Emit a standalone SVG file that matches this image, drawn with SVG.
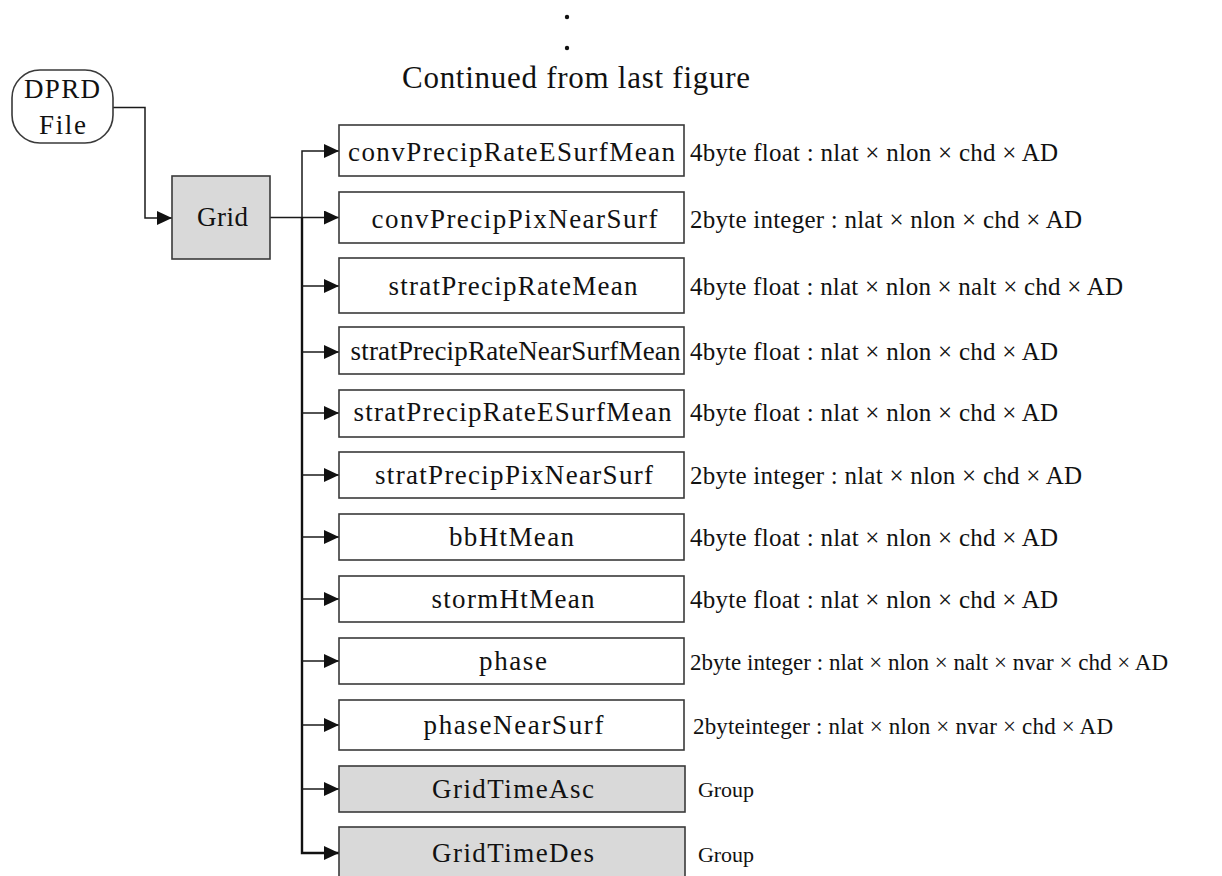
<svg xmlns="http://www.w3.org/2000/svg" width="1222" height="876" viewBox="0 0 1222 876">
<style>
  text { font-family: "Liberation Serif", "Times New Roman", serif; fill: #111; }
  .box { fill: #ffffff; stroke: #3a3a3a; stroke-width: 1.6; }
  .grp { fill: #d9d9d9; stroke: #3a3a3a; stroke-width: 1.6; }
  .name { font-size: 27px; text-anchor: middle; }
  .desc { font-size: 25px; }
  .desc2 { font-size: 23px; }
  .gl { font-size: 22px; }
  .ln { fill: none; stroke: #1a1a1a; stroke-width: 1.5; stroke-linejoin: miter; }
  .lnb { fill: none; stroke: #111; stroke-width: 2.4; stroke-linejoin: miter; }
</style>
<defs>
  <marker id="arr" markerUnits="userSpaceOnUse" markerWidth="16" markerHeight="14" refX="15" refY="7" orient="auto">
    <path d="M0,0 L15,7 L0,14 z" fill="#111"/>
  </marker>
</defs>
<rect x="0" y="0" width="1222" height="876" fill="#ffffff"/>

<g id="title">
  <circle cx="567" cy="17" r="2.2" fill="#111"/>
  <circle cx="567" cy="48" r="2.2" fill="#111"/>
  <text x="402" y="88" font-size="31" textLength="348">Continued from last figure</text>
</g>

<g id="connectors">
  <path class="ln" d="M113,107.5 H145 V218 H172" marker-end="url(#arr)"/>
  <path class="ln" d="M270,217.5 H339" marker-end="url(#arr)"/>
  <path class="ln" d="M302,218 V151 H339" marker-end="url(#arr)"/>
  <path class="lnb" d="M302,217 V853 H339" marker-end="url(#arr)"/>
  <path class="ln" d="M302,286 H339" marker-end="url(#arr)"/>
  <path class="ln" d="M302,352 H339" marker-end="url(#arr)"/>
  <path class="ln" d="M302,413 H339" marker-end="url(#arr)"/>
  <path class="ln" d="M302,475 H339" marker-end="url(#arr)"/>
  <path class="ln" d="M302,537 H339" marker-end="url(#arr)"/>
  <path class="ln" d="M302,599 H339" marker-end="url(#arr)"/>
  <path class="ln" d="M302,661 H339" marker-end="url(#arr)"/>
  <path class="ln" d="M302,725 H339" marker-end="url(#arr)"/>
  <path class="ln" d="M302,789 H339" marker-end="url(#arr)"/>
</g>

<g id="dprd-file">
  <rect x="12" y="70" width="101" height="73" rx="28" ry="28" fill="#fff" stroke="#3a3a3a" stroke-width="1.6"/>
  <text x="24" y="98" font-size="27" textLength="76">DPRD</text>
  <text x="39" y="134" font-size="27" textLength="47">File</text>
</g>

<g id="grid">
  <rect class="grp" x="172" y="176" width="98" height="83"/>
  <text x="197" y="226" font-size="27" textLength="51">Grid</text>
</g>

<g id="convPrecipRateESurfMean">
  <rect class="box" x="339" y="125" width="345" height="51"/>
  <text class="name" x="511.5" y="161" textLength="327">convPrecipRateESurfMean</text>
  <text class="desc" x="690" y="161" textLength="368">4byte float : nlat × nlon × chd  × AD</text>
</g>

<g id="convPrecipPixNearSurf">
  <rect class="box" x="339" y="192" width="345" height="51"/>
  <text class="name" x="514.5" y="228" textLength="286">convPrecipPixNearSurf</text>
  <text class="desc" x="690" y="228" textLength="392">2byte integer : nlat × nlon × chd  × AD</text>
</g>

<g id="stratPrecipRateMean">
  <rect class="box" x="339" y="258" width="345" height="55"/>
  <text class="name" x="513" y="295" textLength="249">stratPrecipRateMean</text>
  <text class="desc" x="690" y="295" textLength="433">4byte float : nlat × nlon × nalt × chd  × AD</text>
</g>

<g id="stratPrecipRateNearSurfMean">
  <rect class="box" x="339" y="327" width="345" height="47"/>
  <text class="name" x="515.5" y="360" textLength="330">stratPrecipRateNearSurfMean</text>
  <text class="desc" x="690" y="360" textLength="368">4byte float : nlat × nlon × chd  × AD</text>
</g>

<g id="stratPrecipRateESurfMean">
  <rect class="box" x="339" y="390" width="345" height="47"/>
  <text class="name" x="512.5" y="421" textLength="318">stratPrecipRateESurfMean</text>
  <text class="desc" x="690" y="421" textLength="368">4byte float : nlat × nlon × chd  × AD</text>
</g>

<g id="stratPrecipPixNearSurf">
  <rect class="box" x="339" y="452" width="345" height="46"/>
  <text class="name" x="514" y="484" textLength="278">stratPrecipPixNearSurf</text>
  <text class="desc" x="690" y="484" textLength="392">2byte integer : nlat × nlon × chd  × AD</text>
</g>

<g id="bbHtMean">
  <rect class="box" x="339" y="514" width="345" height="46"/>
  <text class="name" x="511.5" y="546" textLength="125">bbHtMean</text>
  <text class="desc" x="690" y="546" textLength="368">4byte float : nlat × nlon × chd  × AD</text>
</g>

<g id="stormHtMean">
  <rect class="box" x="339" y="576" width="345" height="46"/>
  <text class="name" x="513" y="608" textLength="163">stormHtMean</text>
  <text class="desc" x="690" y="608" textLength="368">4byte float : nlat × nlon × chd  × AD</text>
</g>

<g id="phase">
  <rect class="box" x="339" y="638" width="345" height="46"/>
  <text class="name" x="513" y="670" textLength="68">phase</text>
  <text class="desc2" x="690" y="670" textLength="478">2byte integer : nlat × nlon × nalt × nvar × chd  × AD</text>
</g>

<g id="phaseNearSurf">
  <rect class="box" x="339" y="700" width="345" height="50"/>
  <text class="name" x="513.5" y="734" textLength="180">phaseNearSurf</text>
  <text class="desc2" x="693" y="734" textLength="420">2byteinteger : nlat × nlon × nvar × chd  × AD</text>
</g>

<g id="GridTimeAsc">
  <rect class="grp" x="339" y="766" width="346" height="46"/>
  <text class="name" x="513" y="798" textLength="162">GridTimeAsc</text>
  <text class="gl" x="698" y="797" textLength="56">Group</text>
</g>

<g id="GridTimeDes">
  <rect class="grp" x="339" y="827" width="346" height="60"/>
  <text class="name" x="513" y="862" textLength="162">GridTimeDes</text>
  <text class="gl" x="698" y="862" textLength="56">Group</text>
</g>
</svg>
